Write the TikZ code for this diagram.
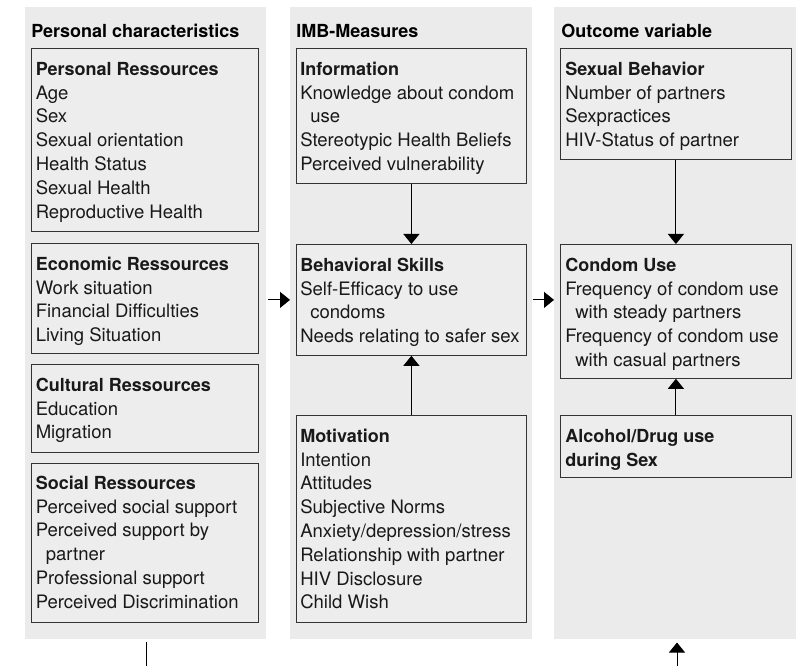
\documentclass[tikz,border=0pt]{standalone}
\usepackage{fontspec}
\setmainfont{TeX Gyre Heros}
\usetikzlibrary{arrows.meta}
\newcommand{\hd}[1]{{\fontsize{13.5}{17.85}\selectfont\bfseries #1}}
\begin{document}
\begin{tikzpicture}[x=0.75pt,y=-0.75pt,
  column/.style={fill=black!8, draw=none, inner sep=0pt, anchor=north west, minimum height=474pt},
  box/.style={draw=black!80, fill=black!7, line width=0.6pt, inner sep=0pt, anchor=north west},
  boxtext/.style={anchor=north west, inner sep=0pt, align=left, text=black!90,
    font=\fontsize{13.9}{17.85}\selectfont},
  title/.style={anchor=base west, inner sep=0pt, font=\fontsize{13.5}{17.85}\selectfont\bfseries},
  arr/.style={line width=0.75pt, -{Triangle[width=12pt,length=7.5pt]}},
  plain/.style={line width=0.75pt}]
\useasboundingbox (0,0) rectangle (803,666);
\newcommand{\ind}{\hspace*{7.5pt}}
% columns
\node[column, minimum width=180.75pt] (colL) at (25,7) {};
\node[column, minimum width=181.5pt] (colM) at (290,7) {};
\node[column, minimum width=181.5pt] (colR) at (554,7) {};
% titles
\node[title] (tL) at (31,38) {Personal characteristics};
\node[title] (tM) at (296,38) {IMB-Measures};
\node[title] (tR) at (561,38) {Outcome variable};
% left boxes
\node[box, minimum width=170.25pt, minimum height=137.25pt] (pr) at (31,48) {};
\node[box, minimum width=170.25pt, minimum height=82.5pt] (er) at (31,243) {};
\node[box, minimum width=170.25pt, minimum height=66pt] (cr) at (31,364) {};
\node[box, minimum width=170.25pt, minimum height=119.25pt] (sr) at (31,463) {};
\node[boxtext] (prt) at (35.5,58.4) {\strut\hd{Personal Ressources}\\Age\\Sex\\Sexual orientation\\Health Status\\Sexual Health\\Reproductive Health};
\node[boxtext] (ert) at (35.5,253.4) {\strut\hd{Economic Ressources}\\Work situation\\Financial Difficulties\\Living Situation};
\node[boxtext] (crt) at (35.5,374.4) {\strut\hd{Cultural Ressources}\\Education\\Migration};
\node[boxtext] (srt) at (35.5,472.4) {\strut\hd{Social Ressources}\\Perceived social support\\Perceived support by\\\ind partner\\Professional support\\Perceived Discrimination};
% middle boxes
\node[box, minimum width=172.5pt, minimum height=101.25pt] (inf) at (296,48) {};
\node[box, minimum width=172.5pt, minimum height=83.25pt] (bs) at (296,244) {};
\node[box, minimum width=172.5pt, minimum height=155.25pt] (mot) at (296,415) {};
\node[boxtext] (inft) at (300,58.4) {\strut\hd{Information}\\Knowledge about condom\\\ind use\\Stereotypic Health Beliefs\\Perceived vulnerability};
\node[boxtext] (bst) at (300,254.4) {\strut\hd{Behavioral Skills}\\Self-Efficacy to use\\\ind condoms\\Needs relating to safer sex};
\node[boxtext] (mott) at (300,425.4) {\strut\hd{Motivation}\\Intention\\Attitudes\\Subjective Norms\\Anxiety/depression/stress\\Relationship with partner\\HIV Disclosure\\Child Wish};
% right boxes
\node[box, minimum width=173.25pt, minimum height=83.25pt] (sb) at (560,48) {};
\node[box, minimum width=173.25pt, minimum height=100.5pt] (cu) at (560,244) {};
\node[box, minimum width=173.25pt, minimum height=46.5pt] (al) at (560,415) {};
\node[boxtext] (sbt) at (565,58.4) {\strut\hd{Sexual Behavior}\\Number of partners\\Sexpractices\\HIV-Status of partner};
\node[boxtext] (cut) at (565,254.4) {\strut\hd{Condom Use}\\Frequency of condom use\\\ind with steady partners\\Frequency of condom use\\\ind with casual partners};
\node[boxtext] (alt) at (565,425.4) {\strut\hd{Alcohol/Drug use}\\\hd{during Sex}};
% connectors
\draw[arr] (inf.south) -- (bs.north);
\draw[arr] (mot.north) -- (bs.south);
\draw[arr] (sb.south) -- (cu.north);
\draw[arr] (al.north) -- (cu.south);
\draw[arr] ([xshift=0.75pt]colL.east |- bs.west) -- (colM.west |- bs.west);
\draw[arr] ([xshift=0.2pt]colM.east |- bs.west) -- (colR.west |- bs.west);
\coordinate (bl) at (146,666);
\coordinate (br) at (677,666);
\draw[plain] ([yshift=-1.5pt]colL.south -| bl) -- (bl);
\draw[arr] (br) -- ([yshift=-2.25pt]colR.south -| br);
\end{tikzpicture}
\end{document}
